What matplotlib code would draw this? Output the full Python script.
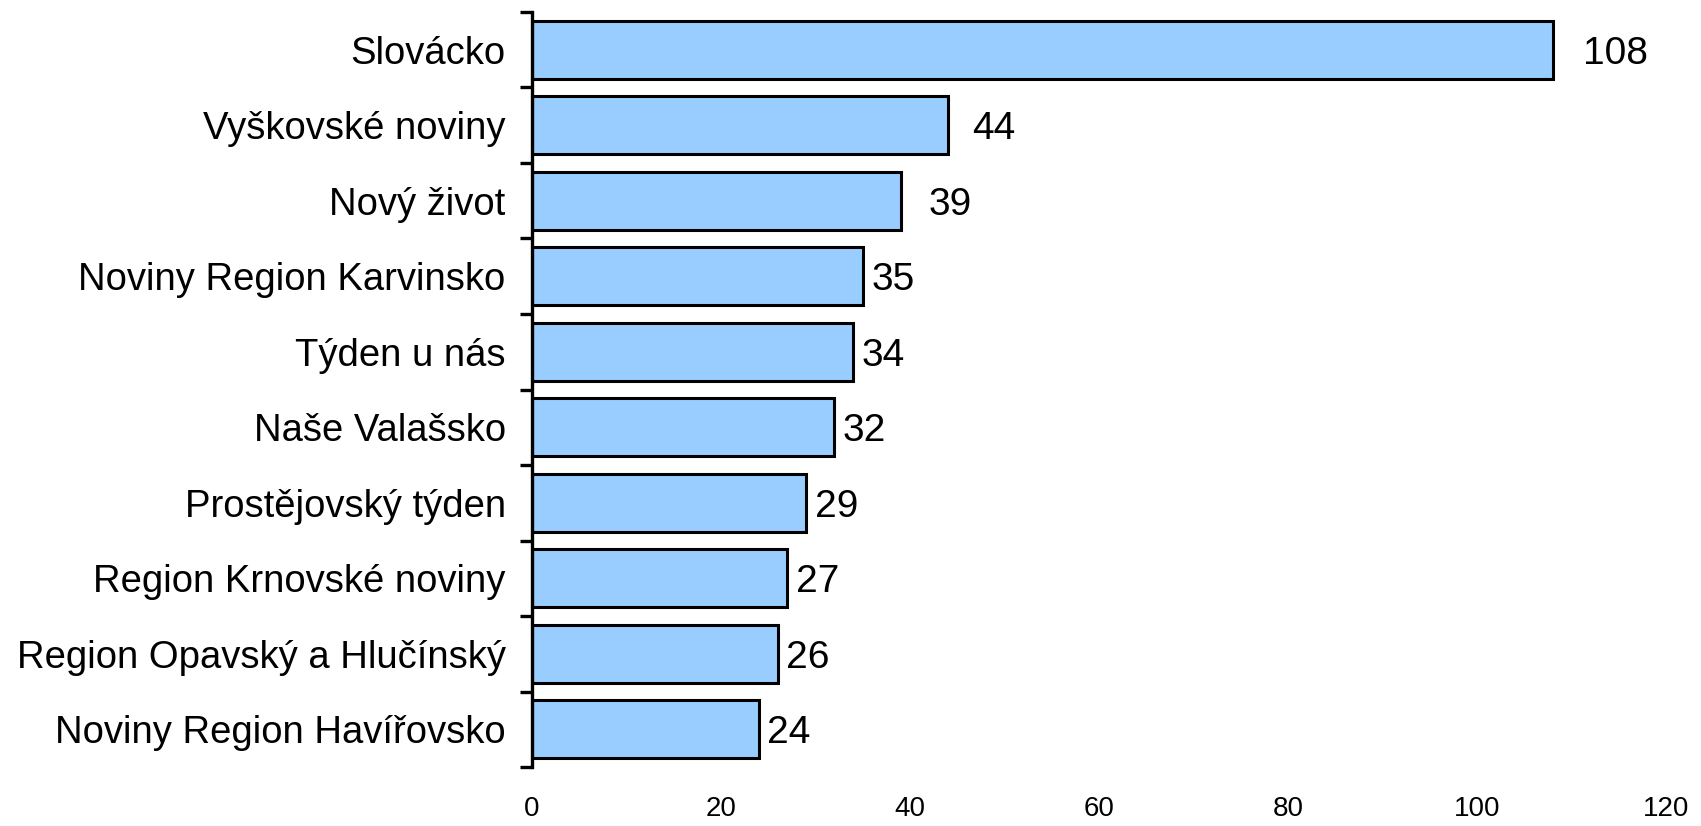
import numpy as np
import matplotlib

matplotlib.use("Agg")

import matplotlib.pyplot as plt

# data
categories = [
    "Slovácko",
    "Vyškovské noviny",
    "Nový život",
    "Noviny Region Karvinsko",
    "Týden u nás",
    "Naše Valašsko",
    "Prostějovský týden",
    "Region Krnovské noviny",
    "Region Opavský a Hlučínský",
    "Noviny Region Havířovsko",
]
values = [108, 44, 39, 35, 34, 32, 29, 27, 26, 24]
x_ticks = [0, 20, 40, 60, 80, 100, 120]

# label gap from bar end, in data units (the original places them unevenly)
label_gaps = [3.2, 2.6, 3.0, 0.9, 0.9, 0.9, 0.9, 0.9, 0.9, 0.9]

plt.rcParams["font.family"] = ["Liberation Sans", "DejaVu Sans"]

fig = plt.figure(figsize=(17.01, 8.26), dpi=100)
ax = fig.add_axes([0.3128, 0.0714, 0.6666, 0.9141])

pos = np.arange(len(categories))
ax.barh(pos, values, height=0.77, color="#99CCFF", edgecolor="black", linewidth=2.2)

for p, v, g in zip(pos, values, label_gaps):
    ax.text(v + g, p + 0.05, str(v), va="center", ha="left", fontsize=28)

ax.set_ylim(len(categories) - 0.5, -0.5)
ax.set_xlim(0, 120)

ax.set_yticks(pos)
ax.set_yticklabels(categories, fontsize=27.5)
ax.set_yticks(np.arange(len(categories) + 1) - 0.5, minor=True)
ax.tick_params(axis="y", which="major", length=0, pad=19)
ax.tick_params(axis="y", which="minor", length=9, width=2.4, direction="out")

ax.set_xticks(x_ticks)
ax.set_xticklabels([str(t) for t in x_ticks], fontsize=20)
ax.tick_params(axis="x", length=0, pad=21)

for side in ["top", "right", "bottom"]:
    ax.spines[side].set_visible(False)
ax.spines["left"].set_linewidth(2.4)

fig.savefig("out.png", dpi=100)
